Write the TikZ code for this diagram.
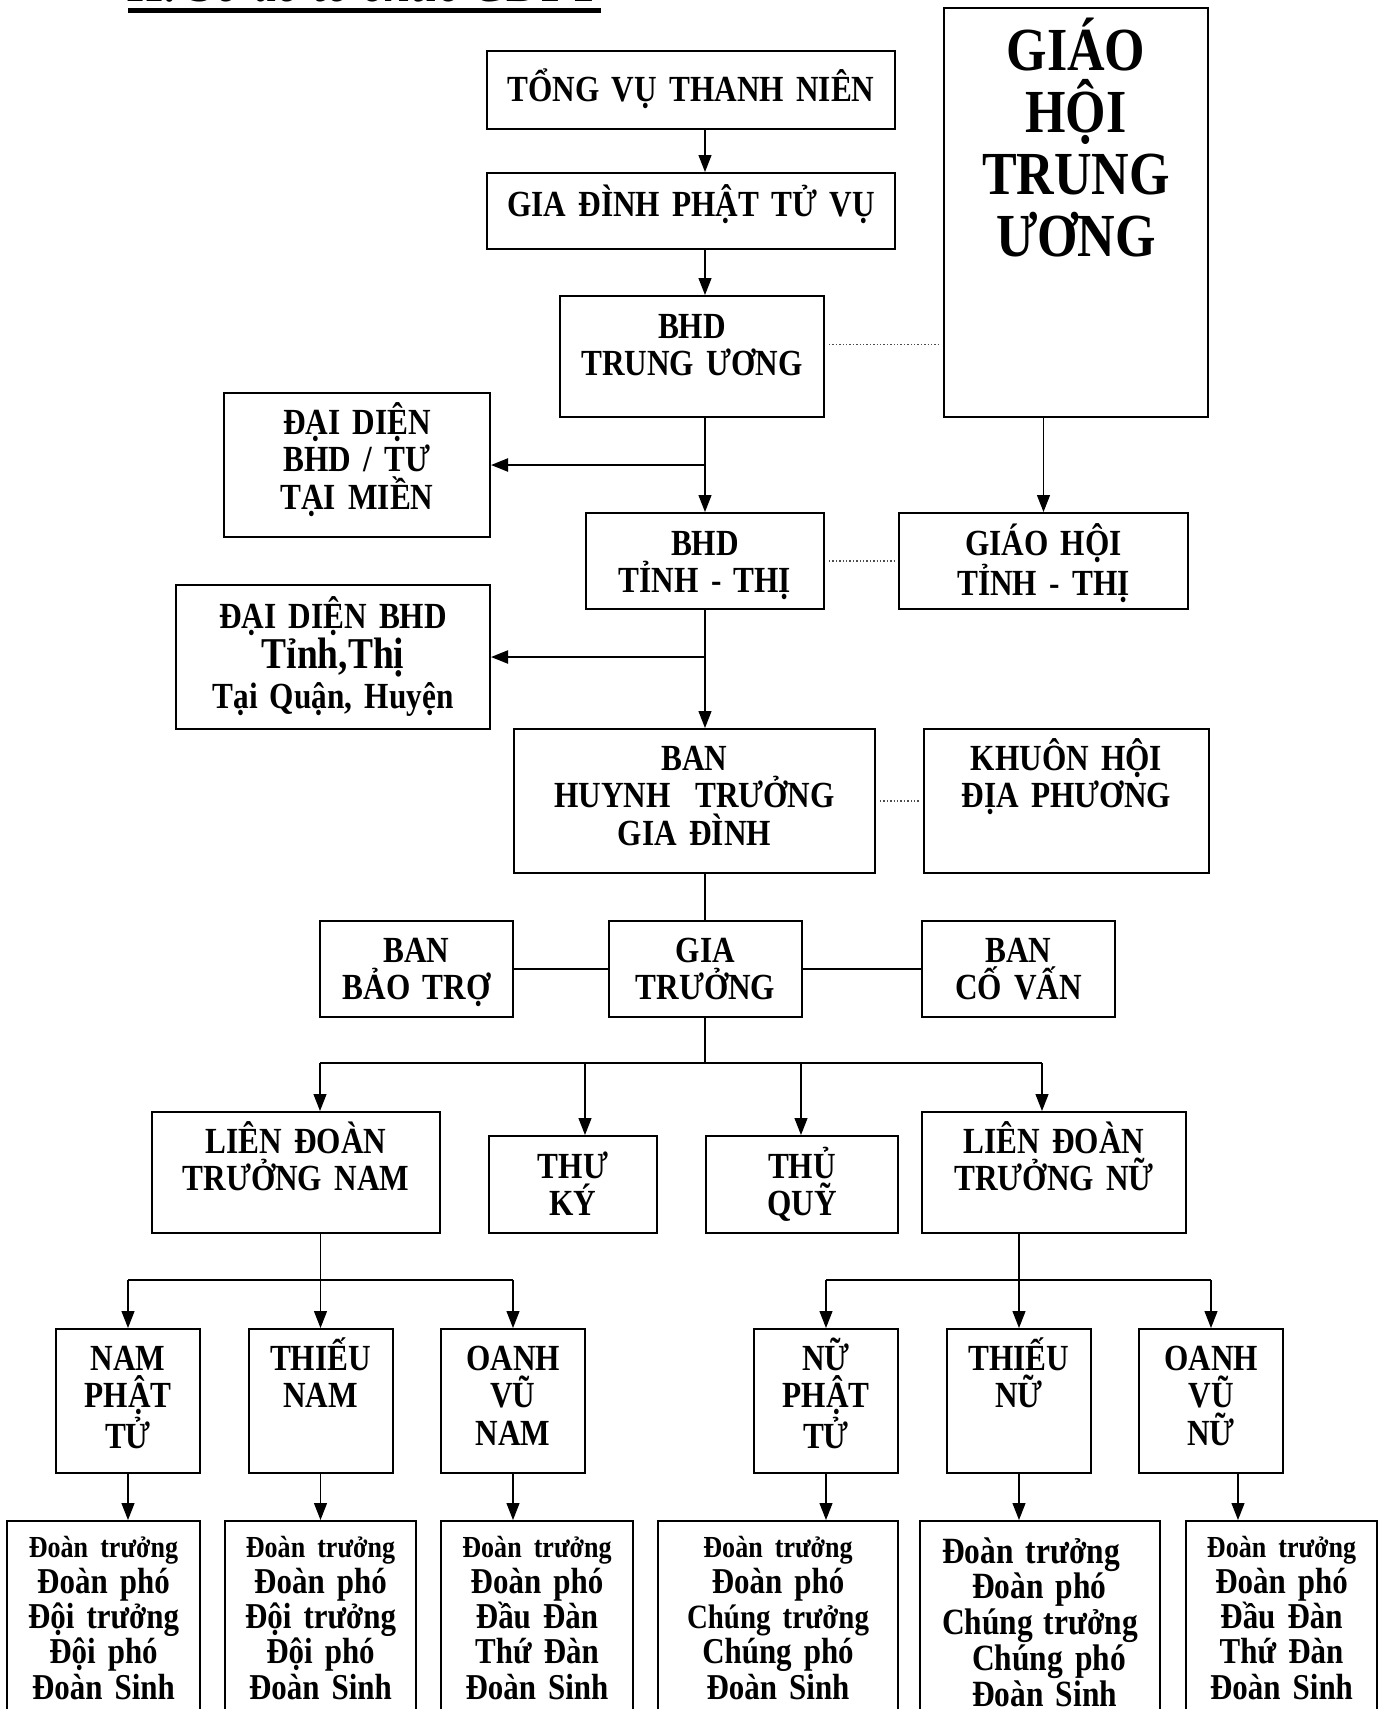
\documentclass[tikz,border=0pt]{standalone}
\usepackage{fontspec}
\setmainfont{Liberation Serif}[FakeStretch=0.85]
\usetikzlibrary{arrows.meta}
\lineskiplimit=-50pt

\begin{document}
\begin{tikzpicture}[
    x=0.5pt, y=-0.5pt,
    box/.style={draw, line width=1pt, inner sep=0pt, anchor=north, align=center,
        font=\bfseries\fontsize{18.4}{18.75}\selectfont},
    unit/.style={box, text width=72pt, text height=20.5pt, text depth=51.5pt},
    rank/.style={box, text height=18.3pt, text depth=95pt,
        font=\bfseries\fontsize{18.2}{17.7}\selectfont},
    arrow/.style={-{Triangle[length=8.5pt,width=6.5pt]}, line width=0.6pt},
    harrow/.style={arrow, line width=1.1pt},
    link/.style={line width=0.6pt},
    bar/.style={line width=1.1pt},
    dotlink/.style={densely dotted, line width=0.7pt, black!70, shorten <=2pt, shorten >=2pt}
]
\useasboundingbox (0,0) rectangle (1382,1709);

% title, cut by the top edge
\node[anchor=base west, inner sep=0pt, font=\bfseries\itshape\fontsize{28.2}{30}\selectfont] (title) at (128,1.5) {II. Sơ đồ tổ chức GĐPT};
\draw[line width=2.5pt] ([yshift=-4.5pt]title.base west) -- ([yshift=-4.5pt]title.base east);

\node[box, text width=204pt, text height=25pt, text depth=14pt] (tvtn) at (691,50) {TỔNG VỤ THANH NIÊN};
\node[box, text width=204pt, text height=21.5pt, text depth=16.5pt] (gdptv) at (691,172) {GIA ĐÌNH PHẬT TỬ VỤ};
\node[box, text width=132pt, text height=21pt, text depth=39.5pt] (bhdtw) at (692,295) {BHD\\TRUNG ƯƠNG};
\node[box, text width=132pt, text height=31pt, text depth=173.5pt,
    font=\bfseries\fontsize{30.6}{31}\selectfont] (ghtw) at (1076,7) {GIÁO\\HỘI\\TRUNG\\ƯƠNG};
\node[box, text width=133pt, text height=20.5pt, text depth=51.5pt] (dd1) at (357,392) {ĐẠI DIỆN\\BHD / TƯ\\TẠI MIỀN};
\node[box, text width=119pt, text height=21pt, text depth=27pt] (bhdtt) at (705,512) {BHD\\TỈNH - THỊ};
\node[box, text width=144.5pt, text height=21pt, text depth=27pt] (ghtt) at (1043.5,512) {GIÁO HỘI\\TỈNH - THỊ};
\node[box, text width=157pt, text height=21.5pt, text depth=50.5pt,
    font=\bfseries\fontsize{18.4}{20}\selectfont] (dd2) at (333,584) {ĐẠI DIỆN BHD\\{\fontsize{22}{20}\selectfont Tỉnh,Thị}\\Tại Quận, Huyện};
\node[box, text width=180.5pt, text height=20.5pt, text depth=51.5pt] (bhtgd) at (694.5,728) {BAN\\HUYNH~~TRƯỞNG\\GIA ĐÌNH};
\node[box, text width=142.5pt, text height=20.5pt, text depth=51.5pt] (khdp) at (1066.5,728) {KHUÔN HỘI\\ĐỊA PHƯƠNG};

\node[box, text width=96.5pt, text height=20.5pt, text depth=27.5pt] (bbt) at (416.5,920) {BAN\\BẢO TRỢ};
\node[box, text width=96.5pt, text height=20.5pt, text depth=27.5pt] (gt) at (705.5,920) {GIA\\TRƯỞNG};
\node[box, text width=96.5pt, text height=20.5pt, text depth=27.5pt] (bcv) at (1018.5,920) {BAN\\CỐ VẤN};

\node[box, text width=144pt, text height=20.5pt, text depth=40pt] (ldtnam) at (296,1111) {LIÊN ĐOÀN\\TRƯỞNG NAM};
\node[box, text width=84pt, text height=21pt, text depth=27.5pt] (thuky) at (573,1135) {THƯ\\KÝ};
\node[box, text width=96pt, text height=21pt, text depth=27.5pt] (thuquy) at (802,1135) {THỦ\\QUỸ};
\node[box, text width=132pt, text height=20.5pt, text depth=40pt] (ldtnu) at (1054,1111) {LIÊN ĐOÀN\\TRƯỞNG NỮ};

\node[unit] (npt) at (128,1328) {NAM\\PHẬT\\TỬ};
\node[unit] (tnam) at (320.5,1328) {THIẾU\\NAM};
\node[unit] (ovnam) at (513,1328) {OANH\\VŨ\\NAM};
\node[unit] (nupt) at (826,1328) {NỮ\\PHẬT\\TỬ};
\node[unit] (tnu) at (1019,1328) {THIẾU\\NỮ};
\node[unit] (ovnu) at (1211,1328) {OANH\\VŨ\\NỮ};

\node[rank, text width=96.5pt] (b1) at (103.5,1520) {{\fontsize{15.3}{17.7}\selectfont Đoàn trưởng}\\Đoàn phó\\Đội trưởng\\Đội phó\\Đoàn Sinh};
\node[rank, text width=95.5pt] (b2) at (320.5,1520) {{\fontsize{15.3}{17.7}\selectfont Đoàn trưởng}\\Đoàn phó\\Đội trưởng\\Đội phó\\Đoàn Sinh};
\node[rank, text width=96pt] (b3) at (537,1520) {{\fontsize{15.3}{17.7}\selectfont Đoàn trưởng}\\Đoàn phó\\Đầu Đàn\\Thứ Đàn\\Đoàn Sinh};
\node[rank, text width=120pt] (b4) at (778,1520) {{\fontsize{15.3}{17.7}\selectfont Đoàn trưởng}\\Đoàn phó\\{\fontsize{17}{17.7}\selectfont Chúng trưởng}\\Chúng phó\\Đoàn Sinh};
\node[rank, text width=120pt, text height=21pt, align=left,
    font=\bfseries\fontsize{18.5}{17.9}\selectfont] (b5) at (1040,1520) {\hspace*{11pt}Đoàn trưởng\\\hspace*{26pt}Đoàn phó\\\hspace*{11pt}Chúng\hspace{0.3em}trưởng\\\hspace*{26pt}Chúng phó\\\hspace*{26pt}Đoàn Sinh};
\node[rank, text width=95.5pt] (b6) at (1281.5,1520) {{\fontsize{15.3}{17.7}\selectfont Đoàn trưởng}\\Đoàn phó\\Đầu Đàn\\Thứ Đàn\\Đoàn Sinh};

% main line
\coordinate (sp) at (705,0);
\draw[arrow] (tvtn.south -| sp) -- (gdptv.north -| sp);
\draw[arrow] (gdptv.south -| sp) -- (bhdtw.north -| sp);
\draw[arrow] (bhdtw.south -| sp) -- (bhdtt.north -| sp);
\draw[harrow] (dd1.east -| sp) -- (dd1.east);
\draw[arrow] (bhdtt.south -| sp) -- (bhtgd.north -| sp);
\draw[harrow] (dd2.east -| sp) -- (dd2.east);
\draw[link] (bhtgd.south -| sp) -- (gt.north -| sp);
\draw[arrow] (ghtw.south -| ghtt.north) -- (ghtt.north);

\draw[dotlink] ([yshift=6pt]bhdtw.east) -- ([yshift=6pt]bhdtw.east -| ghtw.west);
\draw[dotlink] (bhdtt.east) -- (ghtt.west);
\draw[dotlink] (bhtgd.east) -- (khdp.west);

\draw[bar] (bbt.east) -- (gt.west);
\draw[bar] (gt.east) -- (bcv.west);

% gia truong branches
\coordinate (tl) at (320,1063);
\coordinate (tk) at (585,1063);
\coordinate (tq) at (801,1063);
\coordinate (tr) at (1042,1063);
\draw[link] (gt.south -| sp) -- (sp |- tl);
\draw[bar] (tl) -- (tr);
\draw[arrow] (tl) -- (tl |- ldtnam.north);
\draw[arrow] (tk) -- (tk |- thuky.north);
\draw[arrow] (tq) -- (tq |- thuquy.north);
\draw[arrow] (tr) -- (tr |- ldtnu.north);

% nam
\coordinate (nl) at (128,1280);
\coordinate (nr) at (513,1280);
\draw[link] (ldtnam.south -| tnam.north) -- (tnam.north |- nl);
\draw[bar] (nl) -- (nr);
\draw[arrow] (nl) -- (npt.north);
\draw[arrow] (tnam.north |- nl) -- (tnam.north);
\draw[arrow] (nr) -- (ovnam.north);

% nu
\coordinate (ul) at (826,1280);
\coordinate (ur) at (1211,1280);
\draw[link] (ldtnu.south -| tnu.north) -- (tnu.north |- ul);
\draw[bar] (ul) -- (ur);
\draw[arrow] (ul) -- (nupt.north);
\draw[arrow] (tnu.north |- ul) -- (tnu.north);
\draw[arrow] (ur) -- (ovnu.north);

% doan
\draw[arrow] (npt.south) -- (npt.south |- b1.north);
\draw[arrow] (tnam.south) -- (tnam.south |- b2.north);
\draw[arrow] (ovnam.south) -- (ovnam.south |- b3.north);
\draw[arrow] (nupt.south) -- (nupt.south |- b4.north);
\draw[arrow] (tnu.south) -- (tnu.south |- b5.north);
\draw[arrow] ([xshift=13.5pt]ovnu.south) -- ([xshift=13.5pt]ovnu.south |- b6.north);
\end{tikzpicture}
\end{document}
